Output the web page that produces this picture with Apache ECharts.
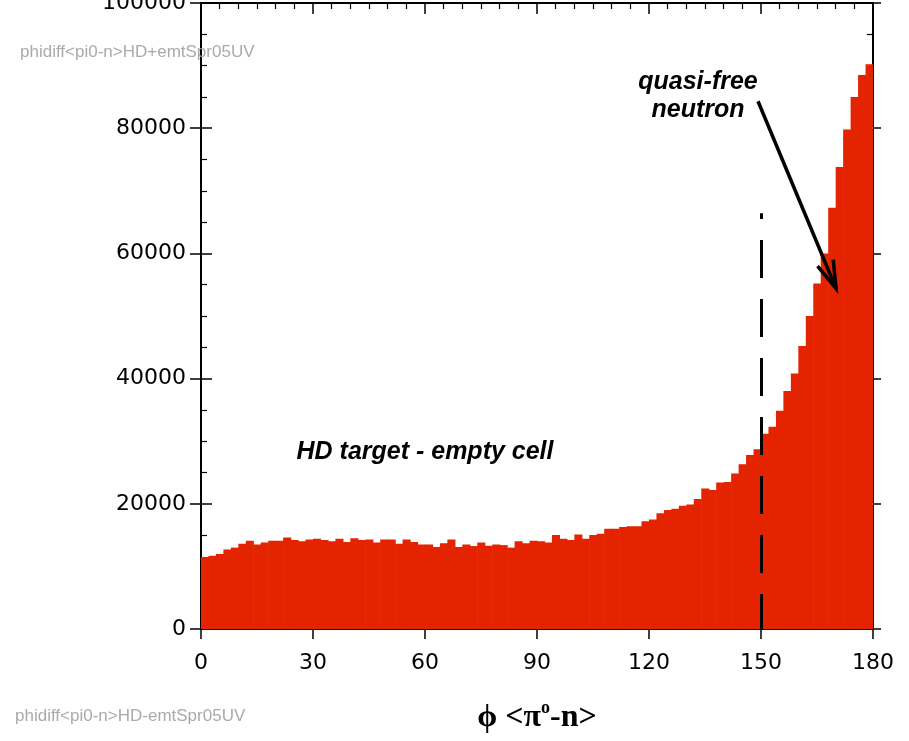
<!DOCTYPE html>
<html>
<head>
<meta charset="utf-8">
<script src="https://cdn.jsdelivr.net/npm/echarts@6/dist/echarts.min.js"></script>
<style>
  html, body { margin: 0; padding: 0; background: #ffffff; }
  #chart { width: 909px; height: 741px; }
</style>
</head>
<body>
<div id="chart"></div>
<script>
// Histogram of the azimuthal difference phi(pi0 - n), 2-degree bins from 0 to 180
const binWidth = 2;
const binStarts = Array.from({ length: 90 }, (_, i) => i * binWidth);
const counts = [
  11500, 11700, 12000, 12700, 13000, 13600, 14100, 13500, 13800, 14100,
  14100, 14600, 14200, 14000, 14300, 14400, 14200, 14000, 14400, 13900,
  14500, 14200, 14300, 13800, 14300, 14300, 13600, 14300, 13900, 13500,
  13500, 13100, 13700, 14300, 13100, 13500, 13250, 13800, 13300, 13500,
  13400, 13000, 14000, 13700, 14100, 14000, 13800, 15000, 14400, 14200,
  15100, 14400, 15000, 15200, 16000, 16000, 16300, 16400, 16400, 17200,
  17500, 18500, 19000, 19200, 19700, 19900, 20750, 22450, 22200, 23400,
  23500, 24850, 26300, 27800, 28700, 31200, 32300, 34850, 38000, 40800,
  45200, 50000, 55200, 60000, 67300, 73800, 79800, 85000, 88500, 90200
];
const xTicks = [0, 180, 30];      // min, max, interval
const yTicks = [0, 100000, 20000];

// Cut position and annotation arrow (data coordinates)
const cutPhi = 150;
const cutTop = 66400;
const arrowFrom = [149.2, 84300];
const arrowTo = [170.1, 54400];

const RED = '#e42300';
const labelFont = 'DejaVu Sans';

const histData = binStarts.map((x, i) => [x, x + binWidth, counts[i]]);

function xAxisDef(pos, inside, withLine, withLabel, majorLen, minorLen) {
  return {
    type: 'value', position: pos, min: xTicks[0], max: xTicks[1], interval: xTicks[2],
    axisLine: { show: withLine, onZero: false, lineStyle: { color: '#000', width: 2 } },
    axisTick: { show: true, inside: inside, length: majorLen, lineStyle: { color: '#000', width: 1.5 } },
    minorTick: { show: minorLen > 0, splitNumber: 6, length: minorLen, lineStyle: { color: '#000', width: 1.2 } },
    axisLabel: { show: withLabel, color: '#000', fontSize: 22, fontFamily: labelFont, margin: 23,
                 formatter: v => String(v) },
    splitLine: { show: false }, minorSplitLine: { show: false }
  };
}
function yAxisDef(pos, inside, withLine, withLabel, majorLen, minorLen) {
  return {
    type: 'value', position: pos, min: yTicks[0], max: yTicks[1], interval: yTicks[2],
    axisLine: { show: withLine, onZero: false, lineStyle: { color: '#000', width: 2 } },
    axisTick: { show: true, inside: inside, length: majorLen, lineStyle: { color: '#000', width: 1.5 } },
    minorTick: { show: minorLen > 0, splitNumber: 4, length: minorLen, lineStyle: { color: '#000', width: 1.2 } },
    axisLabel: { show: withLabel, color: '#000', fontSize: 22, fontFamily: labelFont, margin: 15,
                 formatter: v => String(v) },
    splitLine: { show: false }, minorSplitLine: { show: false }
  };
}

const chart = echarts.init(document.getElementById('chart'), null, { renderer: 'canvas' });

chart.setOption({
  animation: false,
  backgroundColor: '#ffffff',
  grid: { left: 201, right: 36, top: 3, bottom: 112, containLabel: false, outerBoundsMode: 'none' },
  xAxis: [
    xAxisDef('bottom', true, true, true, 12, 7),
    xAxisDef('bottom', false, false, false, 10, 0),
    xAxisDef('top', true, true, false, 11, 6)
  ],
  yAxis: [
    yAxisDef('left', true, true, true, 11, 6),
    yAxisDef('left', false, false, false, 11, 0),
    yAxisDef('right', true, true, false, 12, 6),
    yAxisDef('right', false, false, false, 8, 0)
  ],
  series: [
    {
      type: 'custom',
      xAxisIndex: 0, yAxisIndex: 0,
      data: histData,
      clip: true,
      renderItem: function (params, api) {
        const p0 = api.coord([api.value(0), 0]);
        const p1 = api.coord([api.value(1), api.value(2)]);
        return {
          type: 'rect',
          shape: { x: p0[0], y: p1[1], width: p1[0] - p0[0] + 0.6, height: p0[1] - p1[1] },
          style: { fill: RED, stroke: null }
        };
      },
      markLine: {
        silent: true,
        symbol: ['none', 'none'],
        label: { show: false },
        lineStyle: { color: '#000', width: 3, type: [38, 21], dashOffset: 3 },
        data: [[{ coord: [cutPhi, 0] }, { coord: [cutPhi, cutTop] }]]
      }
    }
  ]
});

// Annotation arrow, placed from data coordinates
const a = chart.convertToPixel({ gridIndex: 0 }, arrowFrom);
const b = chart.convertToPixel({ gridIndex: 0 }, arrowTo);
const ang = Math.atan2(a[1] - b[1], a[0] - b[0]);
const wing = 29, spread = 17 * Math.PI / 180;
const w1 = [b[0] + wing * Math.cos(ang - spread), b[1] + wing * Math.sin(ang - spread)];
const w2 = [b[0] + wing * Math.cos(ang + spread), b[1] + wing * Math.sin(ang + spread)];

const boldItalic = { fontFamily: 'Liberation Sans', fontWeight: 'bold', fontStyle: 'italic', fontSize: 25, fill: '#000' };

chart.setOption({
  graphic: [
    { type: 'polyline', shape: { points: [a, b] }, style: { stroke: '#000', lineWidth: 3.5, fill: null }, z: 100 },
    { type: 'polyline', shape: { points: [w1, b, w2] }, style: { stroke: '#000', lineWidth: 3.5, fill: null, lineJoin: 'miter' }, z: 100 },
    { type: 'text', x: 698, y: 82, style: Object.assign({ text: 'quasi-free', align: 'center', verticalAlign: 'middle' }, boldItalic), z: 100 },
    { type: 'text', x: 698, y: 110, style: Object.assign({ text: 'neutron', align: 'center', verticalAlign: 'middle' }, boldItalic), z: 100 },
    { type: 'text', x: 425, y: 452, style: Object.assign({ text: 'HD target - empty cell', align: 'center', verticalAlign: 'middle' }, boldItalic), z: 100 },
    { type: 'text', x: 20, y: 52, style: { text: 'phidiff<pi0-n>HD+emtSpr05UV', fontFamily: 'Liberation Sans', fontSize: 17, fill: '#aaaaaa', align: 'left', verticalAlign: 'middle' }, z: 100 },
    { type: 'text', x: 15, y: 716, style: { text: 'phidiff<pi0-n>HD-emtSpr05UV', fontFamily: 'Liberation Sans', fontSize: 17, fill: '#aaaaaa', align: 'left', verticalAlign: 'middle' }, z: 100 },
    {
      type: 'text', x: 537, y: 718, z: 100,
      style: {
        text: '{m|ϕ <π}{s|o}{m|-n>}',
        align: 'center', verticalAlign: 'middle',
        rich: {
          m: { fontFamily: 'Liberation Serif', fontWeight: 'bold', fontSize: 32, fill: '#000', lineHeight: 38 },
          s: { fontFamily: 'Liberation Serif', fontWeight: 'bold', fontSize: 18, fill: '#000', lineHeight: 38, verticalAlign: 'top' }
        }
      }
    }
  ]
});
</script>
</body>
</html>
